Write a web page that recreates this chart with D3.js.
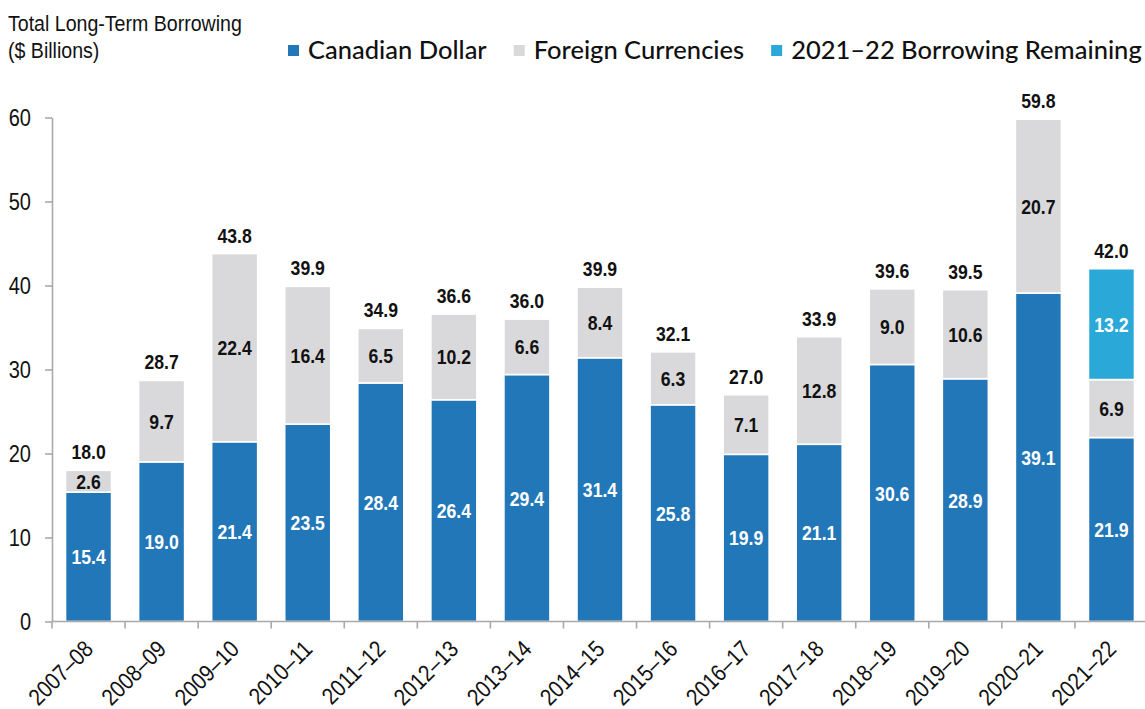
<!DOCTYPE html>
<html>
<head>
<meta charset="utf-8">
<script src="https://cdn.jsdelivr.net/npm/d3@7"></script>
<style>
  html, body { margin: 0; padding: 0; background: #ffffff; }
  svg { display: block; }
</style>
</head>
<body>
<div id="chart"></div>
<script>
const WIDTH = 1145
const HEIGHT = 709

// no narrow face installed, so regular sans is squeezed horizontally
const SANS = "'Liberation Sans', Arial, sans-serif"
const NARROW = 0.87
const NARROW_BOLD = 0.84
const LEGEND_FONT = "Lato, 'Open Sans', sans-serif"

// data
const years = ['2007–08', '2008–09', '2009–10', '2010–11', '2011–12', '2012–13', '2013–14',
  '2014–15', '2015–16', '2016–17', '2017–18', '2018–19', '2019–20', '2020–21', '2021–22']
const canadian = [15.4, 19.0, 21.4, 23.5, 28.4, 26.4, 29.4, 31.4, 25.8, 19.9, 21.1, 30.6, 28.9, 39.1, 21.9]
const foreign  = [2.6, 9.7, 22.4, 16.4, 6.5, 10.2, 6.6, 8.4, 6.3, 7.1, 12.8, 9.0, 10.6, 20.7, 6.9]
const remaining = [0, 0, 0, 0, 0, 0, 0, 0, 0, 0, 0, 0, 0, 0, 13.2]
const totals = [18.0, 28.7, 43.8, 39.9, 34.9, 36.6, 36.0, 39.9, 32.1, 27.0, 33.9, 39.6, 39.5, 59.8, 42.0]
const yTicks = [0, 10, 20, 30, 40, 50, 60]

const SERIES = [
  { key: 'canadian',  label: 'Canadian Dollar',             color: '#2277b8', text: '#ffffff' },
  { key: 'foreign',   label: 'Foreign Currencies',          color: '#d9d9db', text: '#111111' },
  { key: 'remaining', label: '2021–22 Borrowing Remaining', color: '#2aa9d8', text: '#ffffff' },
]
const VALUES = { canadian, foreign, remaining }

const AXIS_COLOR = '#a9a9a9'

const rows = years.map((year, i) => ({
  year, canadian: canadian[i], foreign: foreign[i], remaining: remaining[i], total: totals[i],
}))

const stacked = d3.stack().keys(SERIES.map(s => s.key))(rows)

const x = d3.scaleBand()
  .domain(years)
  .range([52, 1148])
  .paddingInner(0.37)
  .paddingOuter(0.185)

const y = d3.scaleLinear()
  .domain([0, 60])
  .range([621.5, 117.5])

const svg = d3.select('#chart')
  .append('svg')
  .attr('width', WIDTH)
  .attr('height', HEIGHT)

function squeeze(px, py, sx, rot = 0) {
  return `translate(${px},${py})${rot ? ` rotate(${rot})` : ''} scale(${sx},1)`
}

// Title
svg.append('text')
  .attr('transform', squeeze(8, 31, NARROW))
  .attr('font-family', SANS).attr('font-size', '22.5px').attr('fill', '#111')
  .text('Total Long-Term Borrowing')
svg.append('text')
  .attr('transform', squeeze(8, 58, NARROW))
  .attr('font-family', SANS).attr('font-size', '22.5px').attr('fill', '#111')
  .text('($ Billions)')

// Legend, laid out left to right
let lx = 288
for (const s of SERIES) {
  svg.append('rect')
    .attr('x', lx).attr('y', 45)
    .attr('width', 11).attr('height', 11)
    .attr('fill', s.color)
  const t = svg.append('text')
    .attr('x', lx + 20).attr('y', 59)
    .attr('font-family', LEGEND_FONT)
    .attr('font-size', '25.5px')
    .attr('font-weight', 500)
    .attr('fill', '#111')
    .text(s.label)
  lx += 20 + t.node().getComputedTextLength() + 27
}

// Bars
const segs = svg.append('g')
SERIES.forEach((s, si) => {
  const layer = stacked[si]
  const g = segs.append('g').attr('class', `series-${s.key}`)
  layer.forEach((d, i) => {
    if (VALUES[s.key][i] <= 0) return
    g.append('rect')
      .attr('x', x(years[i]))
      .attr('y', y(d[1]))
      .attr('width', x.bandwidth())
      .attr('height', y(d[0]) - y(d[1]))
      .attr('fill', s.color)
      .attr('stroke', '#ffffff')
      .attr('stroke-width', 1.6)
    g.append('text')
      .attr('transform', squeeze(x(years[i]) + x.bandwidth() / 2, y((d[0] + d[1]) / 2), NARROW_BOLD))
      .attr('dy', '0.36em')
      .attr('text-anchor', 'middle')
      .attr('font-family', SANS)
      .attr('font-weight', 'bold')
      .attr('font-size', '21px')
      .attr('fill', s.text)
      .text(VALUES[s.key][i].toFixed(1))
  })
})

// Totals above bars
svg.append('g').selectAll('text')
  .data(rows)
  .join('text')
  .attr('transform', d => squeeze(x(d.year) + x.bandwidth() / 2,
    y(d.canadian + d.foreign + d.remaining) - 11, NARROW_BOLD))
  .attr('text-anchor', 'middle')
  .attr('font-family', SANS)
  .attr('font-weight', 'bold')
  .attr('font-size', '21px')
  .attr('fill', '#111')
  .text(d => d.total.toFixed(1))

// Y axis
const yAxis = svg.append('g')
  .attr('transform', `translate(${x.range()[0]},0)`)
  .call(d3.axisLeft(y).tickValues(yTicks).tickSize(7).tickSizeOuter(0).tickPadding(14))
yAxis.select('.domain').attr('stroke', AXIS_COLOR).attr('stroke-width', 1.6)
yAxis.selectAll('.tick line').attr('stroke', AXIS_COLOR).attr('stroke-width', 1.6)
yAxis.selectAll('.tick text')
  .attr('x', null)
  .attr('transform', `translate(-21,0) scale(${NARROW},1)`)
  .attr('dy', '0.36em')
  .attr('font-family', SANS)
  .attr('font-size', '23px')
  .attr('fill', '#111')

// X axis: baseline, ticks on band boundaries, rotated labels
const gap = (x.step() - x.bandwidth()) / 2
const xAxis = svg.append('g')
xAxis.append('line')
  .attr('x1', x.range()[0]).attr('x2', WIDTH)
  .attr('y1', y(0)).attr('y2', y(0))
  .attr('stroke', AXIS_COLOR).attr('stroke-width', 1.6)
xAxis.selectAll('.xtick')
  .data(years)
  .join('line')
  .attr('class', 'xtick')
  .attr('x1', d => x(d) - gap).attr('x2', d => x(d) - gap)
  .attr('y1', y(0)).attr('y2', y(0) + 7)
  .attr('stroke', AXIS_COLOR).attr('stroke-width', 1.6)
xAxis.selectAll('.xlabel')
  .data(years)
  .join('text')
  .attr('class', 'xlabel')
  .attr('transform', d => squeeze(x(d) + x.bandwidth() / 2 + 6, y(0) + 29, NARROW, -45))
  .attr('text-anchor', 'end')
  .attr('font-family', SANS)
  .attr('font-size', '23.5px')
  .attr('fill', '#111')
  .text(d => d)
</script>
</body>
</html>
